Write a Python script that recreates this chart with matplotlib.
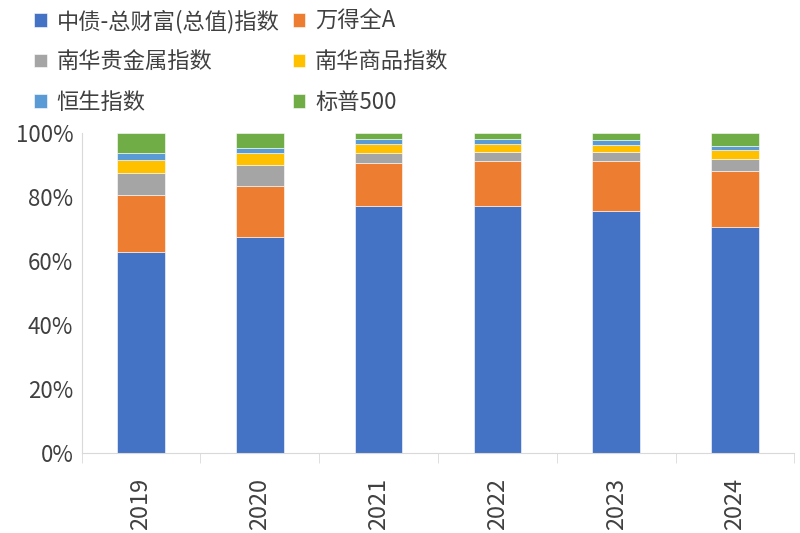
import matplotlib
matplotlib.use("Agg")
import matplotlib.pyplot as plt
import numpy as np

plt.rcParams['font.family'] = ['Noto Sans CJK SC', 'DejaVu Sans']

years = ['2019', '2020', '2021', '2022', '2023', '2024']
names = ['中债-总财富(总值)指数', '万得全A', '南华贵金属指数',
         '南华商品指数', '恒生指数', '标普500']
bond = [62.8, 67.4, 77.2, 77.2, 75.5, 70.7]
wind_a = [17.9, 15.9, 13.5, 14.1, 15.7, 17.4]
metal = [6.8, 6.7, 3.0, 2.6, 2.8, 3.7]
commodity = [3.9, 3.6, 2.8, 2.6, 2.3, 2.8]
hsi = [2.2, 1.7, 1.5, 1.5, 1.3, 1.1]
sp500 = [6.4, 4.7, 2.0, 2.0, 2.4, 4.3]
colors = ['#4472C4', '#ED7D31', '#A5A5A5', '#FFC000', '#5B9BD5', '#70AD47']

series = [bond, wind_a, metal, commodity, hsi, sp500]

fig = plt.figure(figsize=(8, 5.33), dpi=100)
ax = fig.add_axes([0.102, 0.150, 0.891, 0.601])

x = np.arange(len(years))
bottom = np.zeros(len(years))
handles = []
for vals, name, c in zip(series, names, colors):
    b = ax.bar(x, vals, width=0.4, bottom=bottom, color=c, label=name,
               edgecolor='white', linewidth=0.4)
    handles.append(b)
    bottom += np.array(vals)

ax.set_xlim(-0.5, len(years) - 0.5)
ax.set_ylim(0, 100)
ax.set_yticks(np.arange(0, 101, 20))
ax.set_yticklabels([f'{v}%' for v in range(0, 101, 20)], fontsize=16, color='#404040')
ax.tick_params(axis='y', length=0, pad=6)

ax.set_xticks(x)
ax.set_xticklabels(years, rotation=90, fontsize=17, color='#404040')
ax.tick_params(axis='x', which='major', length=0, pad=18)
ax.set_xticks(np.arange(-0.5, len(years), 1), minor=True)
ax.tick_params(axis='x', which='minor', length=7, color='#D9D9D9', direction='out')

for s in ['top', 'right']:
    ax.spines[s].set_visible(False)
ax.spines['left'].set_color('#D9D9D9')
ax.spines['bottom'].set_color('#D9D9D9')

# legend is filled row by row in the reference
order = [0, 2, 4, 1, 3, 5]
fig.legend([handles[i] for i in order], [names[i] for i in order],
           loc='upper left', bbox_to_anchor=(0.018, 1.02),
           ncol=2, frameon=False, fontsize=16, handlelength=0.55,
           handleheight=0.55, handletextpad=0.45, columnspacing=0.6,
           labelspacing=0.78, labelcolor='#404040')

fig.savefig('out.png', dpi=100)
